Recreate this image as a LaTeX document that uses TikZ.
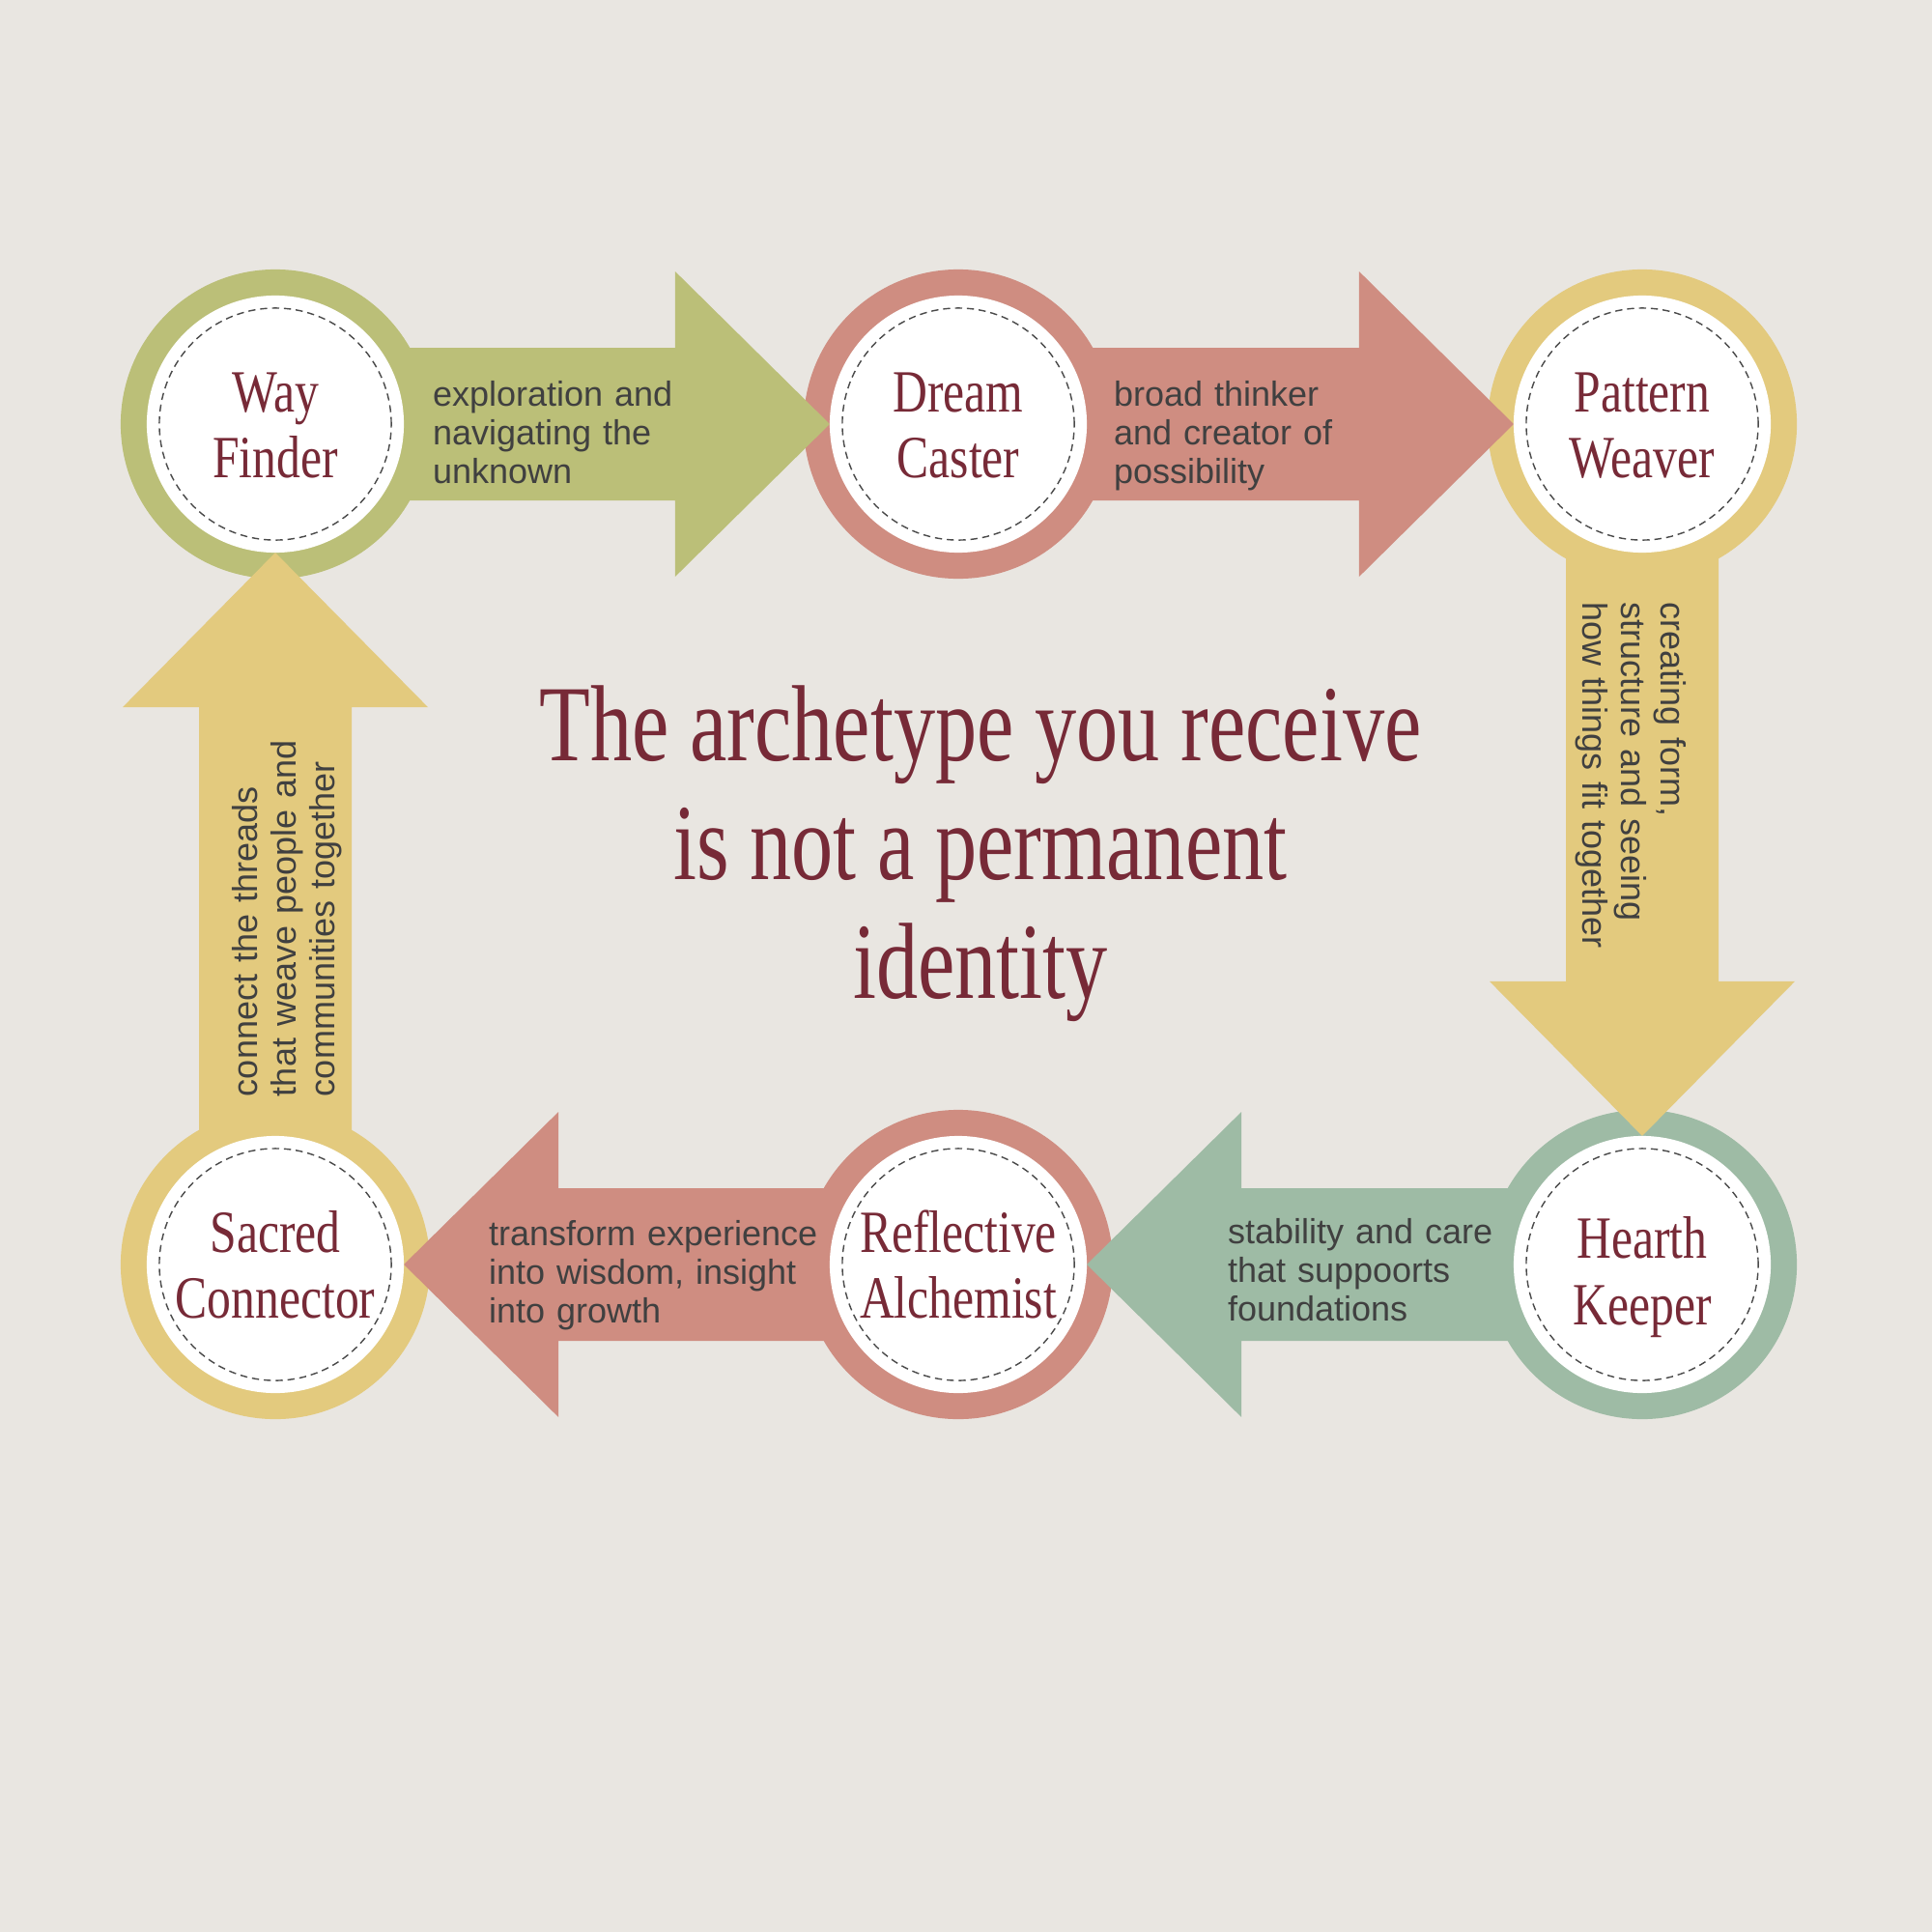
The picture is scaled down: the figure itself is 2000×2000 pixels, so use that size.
\documentclass[tikz,border=0pt]{standalone}
\usepackage{fontspec}
\usetikzlibrary{calc}
\newfontfamily\bodyfont{Liberation Sans}
\newfontfamily\labelfont[FakeStretch=0.8]{Liberation Serif}
\newfontfamily\titlefont[FakeStretch=0.77]{Liberation Serif}
\definecolor{bgc}{HTML}{E9E6E1}
\definecolor{olivec}{HTML}{BBBF78}
\definecolor{salmonc}{HTML}{CF8D81}
\definecolor{goldc}{HTML}{E3CA7E}
\definecolor{sagec}{HTML}{9EBBA5}
\definecolor{maroonc}{HTML}{772A37}
\definecolor{bodyc}{HTML}{404040}
\definecolor{dashc}{HTML}{4A4A4A}
\pgfdeclarelayer{bglayer}
\pgfdeclarelayer{ringlayer}
\pgfdeclarelayer{arrowlayer}
\pgfsetlayers{bglayer,ringlayer,arrowlayer,main}
\begin{document}
\begin{tikzpicture}[x=0.01cm,y=-0.01cm,
  ringnode/.style={circle, minimum size=3.2cm, inner sep=0pt, outer sep=0pt},
  disc/.style={circle, fill=white, minimum size=2.66cm, inner sep=0pt, outer sep=0pt,
    text=maroonc, font=\labelfont\fontsize{17.64pt}{19.5pt}\selectfont, align=center,
    text height=31.8pt, text depth=0pt},
  dashring/.style={circle, draw=dashc, line width=0.4pt, dash pattern=on 2.1pt off 1.4pt,
    minimum size=2.4cm, inner sep=0pt, outer sep=0pt},
  desc/.style={text=bodyc, font=\bodyfont\fontsize{10.24pt}{11.5pt}\selectfont,
    align=left, text width=4cm, inner sep=0pt, outer sep=0pt, anchor=base west},
  titlestyle/.style={text=maroonc, font=\titlefont\fontsize{31.87pt}{35pt}\selectfont,
    align=center, inner sep=0pt}
]
\begin{pgfonlayer}{bglayer}
  \fill[bgc] (0,0) rectangle (2000,2000);
\end{pgfonlayer}
\useasboundingbox (0,0) rectangle (2000,2000);

% discs with labels
\node[disc] (wf) at (285,439) {Way\\Finder};
\node[disc] (dc) at (992,439) {Dream\\Caster};
\node[disc] (pw) at (1700,439) {Pattern\\Weaver};
\node[disc, text height=35.4pt] (hk) at (1700,1309) {Hearth\\Keeper};
\node[disc] (ra) at (992,1309) {Reflective\\Alchemist};
\node[disc] (sc) at (285,1309) {Sacred\\Connector};

\foreach \n in {wf,dc,pw,hk,ra,sc}{
  \node[dashring] (\n d) at (\n.center) {};
}

% outer rings
\begin{pgfonlayer}{ringlayer}
  \node[ringnode, fill=olivec] (wfr) at (wf.center) {};
  \node[ringnode, fill=salmonc] (dcr) at (dc.center) {};
  \node[ringnode, fill=goldc] (pwr) at (pw.center) {};
  \node[ringnode, fill=sagec] (hkr) at (hk.center) {};
  \node[ringnode, fill=salmonc] (rar) at (ra.center) {};
  \node[ringnode, fill=goldc] (scr) at (sc.center) {};
\end{pgfonlayer}

% arrows
\begin{pgfonlayer}{arrowlayer}
  % right-pointing
  \fill[olivec] ($(wfr.center)+(0,-79)$) -- ($(dc.west)+(-160,-79)$) -- ($(dc.west)+(-160,-158)$)
    -- (dc.west) -- ($(dc.west)+(-160,158)$) -- ($(dc.west)+(-160,79)$) -- ($(wfr.center)+(0,79)$) -- cycle;
  \fill[salmonc] ($(dcr.center)+(0,-79)$) -- ($(pw.west)+(-160,-79)$) -- ($(pw.west)+(-160,-158)$)
    -- (pw.west) -- ($(pw.west)+(-160,158)$) -- ($(pw.west)+(-160,79)$) -- ($(dcr.center)+(0,79)$) -- cycle;
  % down-pointing
  \fill[goldc] ($(pwr.center)+(-79,0)$) -- ($(hk.north)+(-79,-160)$) -- ($(hk.north)+(-158,-160)$)
    -- (hk.north) -- ($(hk.north)+(158,-160)$) -- ($(hk.north)+(79,-160)$) -- ($(pwr.center)+(79,0)$) -- cycle;
  % left-pointing
  \fill[sagec] ($(hkr.center)+(0,-79)$) -- ($(ra.east)+(160,-79)$) -- ($(ra.east)+(160,-158)$)
    -- (ra.east) -- ($(ra.east)+(160,158)$) -- ($(ra.east)+(160,79)$) -- ($(hkr.center)+(0,79)$) -- cycle;
  \fill[salmonc] ($(rar.center)+(0,-79)$) -- ($(sc.east)+(160,-79)$) -- ($(sc.east)+(160,-158)$)
    -- (sc.east) -- ($(sc.east)+(160,158)$) -- ($(sc.east)+(160,79)$) -- ($(rar.center)+(0,79)$) -- cycle;
  % up-pointing
  \fill[goldc] ($(scr.center)+(-79,0)$) -- ($(wf.south)+(-79,160)$) -- ($(wf.south)+(-158,160)$)
    -- (wf.south) -- ($(wf.south)+(158,160)$) -- ($(wf.south)+(79,160)$) -- ($(scr.center)+(79,0)$) -- cycle;
\end{pgfonlayer}

% descriptions
\node[desc] (t1) at (448,420) {exploration and\\navigating the\\unknown};
\node[desc] (t2) at (1153,420) {broad thinker\\and creator of\\possibility};
\node[desc, rotate=-90] (t3) at (1719,623) {creating form,\\structure and seeing\\how things fit together};
\node[desc] (t4) at (1271,1287) {stability and care\\that suppoorts\\foundations};
\node[desc] (t5) at (506,1289) {transform experience\\into wisdom, insight\\into growth};
\node[desc, rotate=90] (t6) at (266,1135) {connect the threads\\that weave people and\\communities together};

% title
\node[titlestyle] (title) at (1015,884) {The archetype you receive\\is not a permanent\\identity};
\end{tikzpicture}
\end{document}
